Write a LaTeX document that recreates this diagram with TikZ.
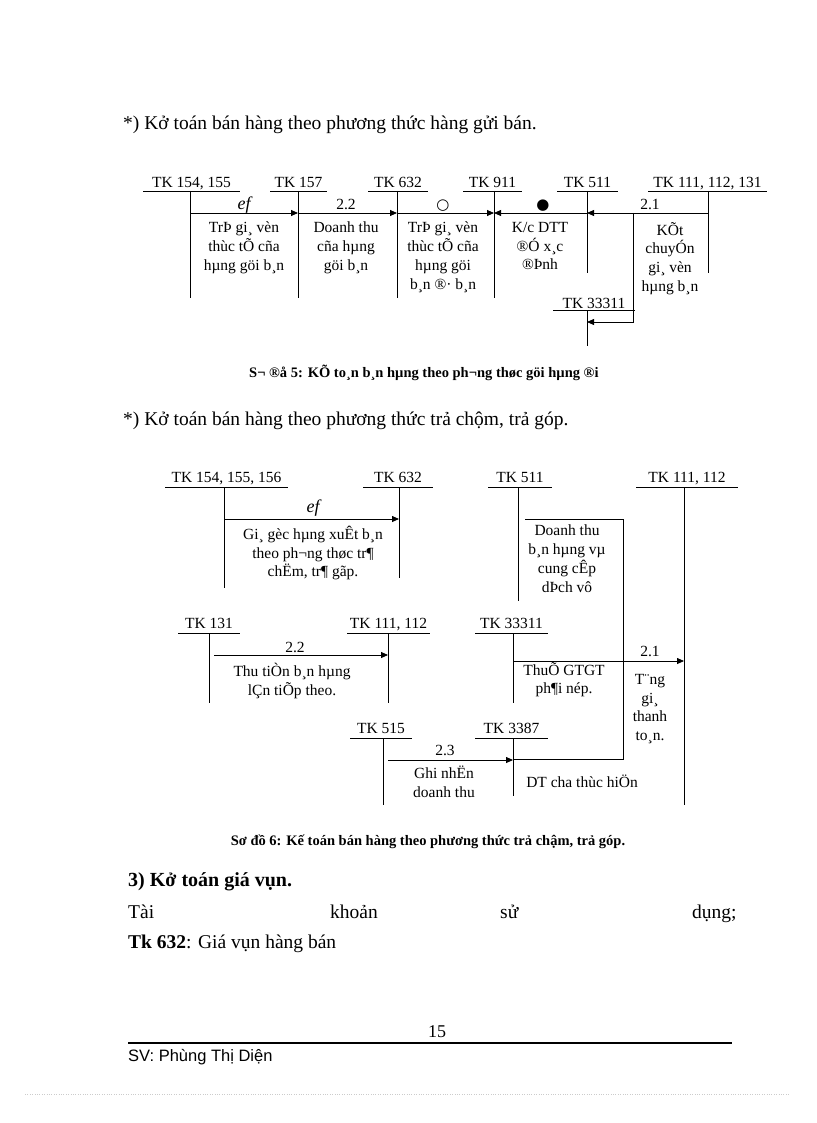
\documentclass[tikz,border=0pt]{standalone}
\usepackage{fontspec}
\setmainfont{Liberation Serif}
\newfontfamily\djv{DejaVu Sans}
\newfontfamily\arl{Liberation Sans}
\usetikzlibrary{arrows.meta}
\begin{document}
\begin{tikzpicture}[x=1pt,y=-1pt,
  lbl/.style={font=\fontsize{15.5}{17}\selectfont,inner sep=0pt,anchor=base,yshift=-5pt},
  txt/.style={font=\fontsize{15.5}{18.7}\selectfont,align=center,inner sep=0pt,anchor=north},
  ln/.style={line width=0.8pt},
  ar/.style={line width=0.8pt,-{Triangle[length=7pt,width=6pt]}},
  hd/.style={font=\fontsize{19.5}{22}\selectfont,anchor=west,inner sep=0pt}]
\useasboundingbox (0,0) rectangle (816,1123);
% headings
\node[hd] (h1) at (123,125) {*) Kở toán bán hàng theo phương thức hàng gửi bán.};
% ---- diagram 1
\foreach \n/\t/\a/\b/\v/\e in {a/{TK 154, 155}/143/240/190/298, b/{TK 157}/270/327/298/298, c/{TK 632}/368/428/397/298, d/{TK 911}/463/522/494/298, e/{TK 511}/557/618/587/273, f/{TK 111, 112, 131}/648/767/708/273}{
  \node[lbl] (L\n) at ({(\a+\b)/2},183) {\t};
  \draw[ln] (\a,191) -- (\b,191);
  \coordinate (T\n) at (\v,191); \coordinate (B\n) at (\v,\e);
  \draw[ln] (T\n) -- (B\n);
}
\coordinate (A1) at (190,213); \coordinate (A2) at (298,213); \coordinate (A3) at (397,213);
\coordinate (A4) at (494,213); \coordinate (A5) at (587,213); \coordinate (A6) at (708,213);
\draw[ar] (A1) -- (A2); \draw[ar] (A2) -- (A3); \draw[ar] (A3) -- (A4);
\draw[ar] (A5) -- (A4); \draw[ar] (A6) -- (A5);
\node[lbl,font=\itshape\fontsize{18}{18}\selectfont] (s1) at (244,205) {ef};
\node[lbl] (s2) at (346,205) {2.2};
\node[lbl,font=\djv\fontsize{15}{15}\selectfont] (s3) at (443,205) {○};
\node[lbl,font=\djv\fontsize{15}{15}\selectfont] (s4) at (543,205) {●};
\node[lbl] (s5) at (650,205) {2.1};
\node[txt] (t1) at (244,222) {TrÞ gi¸ vèn\\thùc tÕ cña\\hµng göi b¸n};
\node[txt] (t2) at (346,222) {Doanh thu\\cña hµng\\göi b¸n};
\node[txt] (t3) at (443,222) {TrÞ gi¸ vèn\\thùc tÕ cña\\hµng göi\\b¸n ®· b¸n};
\begin{scope}
\clip (500,215) rectangle (585,276);
\node[txt] (t4) at (540,222) {K/c DTT\\®Ó x¸c\\®Þnh\\KQKD};
\end{scope}
\node[txt] (t5) at (670,222) {KÕt\\chuyÓn\\gi¸ vèn\\hµng b¸n};
\node[lbl] (L33) at (594,303) {TK 33311};
\draw[ln] (553,310) -- (635,310);
\coordinate (T33) at (587,310); \coordinate (B33) at (587,346);
\draw[ln] (T33) -- (B33);
\coordinate (E1) at (633,213); \coordinate (E2) at (587,322);
\draw[ar] (E1) |- (E2);
\node[lbl,font=\bfseries\fontsize{14.5}{16}\selectfont,anchor=base west] (c5) at (249,372) {S¬ ®å 5: KÕ to¸n b¸n hµng theo ph¬ng  thøc göi hµng ®i};
% ---- heading 2
\node[hd] (h2) at (123,421) {*) Kở toán bán hàng theo phương thức trả chộm, trả góp.};
% ---- diagram 2
\foreach \n/\t/\y/\a/\b/\v/\e in {a/{TK 154, 155, 156}/477/165/288/224/588, b/{TK 632}/477/363/433/399/578, c/{TK 511}/477/488/552/518/601, d/{TK 111, 112}/477/636/738/684/805,
  e/{TK 131}/623/178/240/209/703, f/{TK 111, 112}/623/347/430/388/703, g/{TK 33311}/623/475/548/513/703,
  h/{TK 515}/728/350/412/383/805, i/{TK 3387}/728/475/548/513/796}{
  \node[lbl] (M\n) at ({(\a+\b)/2},\y) {\t};
  \draw[ln] (\a,\y+10) -- (\b,\y+10);
  \coordinate (U\n) at (\v,\y+10); \coordinate (V\n) at (\v,\e);
  \draw[ln] (U\n) -- (V\n);
}
\coordinate (P1) at (224,519); \coordinate (P2) at (399,519);
\draw[ar] (P1) -- (P2);
\node[lbl,font=\itshape\fontsize{18}{18}\selectfont] (u1) at (313,507) {ef};
\node[txt] (w1) at (313,526) {Gi¸ gèc hµng  xuÊt b¸n\\theo ph¬ng  thøc tr¶\\chËm, tr¶ gãp.};
\coordinate (Q1) at (525,519); \coordinate (Q2) at (623,519); \coordinate (Q3) at (623,759); \coordinate (Q4) at (513,759);
\draw[ln] (Q1) -- (Q2) -- (Q3) -- (Q4);
\node[txt] (w2) at (567,525) {Doanh thu\\b¸n hµng  vµ\\cung  cÊp\\dÞch vô};
\coordinate (R1) at (214,655); \coordinate (R2) at (388,655);
\draw[ar] (R1) -- (R2);
\node[lbl] (u2) at (295,647) {2.2};
\node[txt] (w3) at (292,663) {Thu tiÒn b¸n hµng\\lÇn tiÕp theo.};
\coordinate (S1) at (513,661); \coordinate (S2) at (684,661);
\draw[ar] (S1) -- (S2);
\node[lbl] (u3) at (650,651) {2.1};
\node[txt] (w4) at (564,662) {ThuÕ GTGT\\ph¶i nép.};
\node[txt] (w5) at (650,674) {T¨ng\\gi¸\\thanh\\to¸n.};
\coordinate (X1) at (388,760); \coordinate (X2) at (513,760);
\draw[ar] (X1) -- (X2);
\node[lbl] (u4) at (445,750) {2.3};
\node[txt] (w6) at (444,766) {Ghi nhËn\\doanh thu};
\node[txt] (w7) at (582,775) {DT ch­a  thùc hiÖn};
\node[lbl,font=\bfseries\fontsize{14.5}{16}\selectfont] (c6) at (428,840) {Sơ đồ 6: Kế toán bán hàng theo phương thức trả chậm, trả góp.};
% ---- text below
\node[hd,font=\bfseries\fontsize{20}{22}\selectfont] (h3) at (128,882) {3) Kở toán giá vụn.};
\node[hd,anchor=base west] (p1) at (128,918) {Tài};
\node[hd,anchor=base west] (p2) at (330,918) {khoản};
\node[hd,anchor=base west] (p3) at (500,918) {sử};
\node[hd,anchor=base west] (p4) at (692,918) {dụng;};
\node[hd,font=\fontsize{19.5}{22}\selectfont] (p5) at (128,944) {\textbf{Tk 632}: Giá vụn hàng bán};
\node[lbl,font=\fontsize{18}{18}\selectfont] (pg) at (437,1032) {15};
\draw[line width=2pt] (128,1043) -- (732,1043);
\node[hd,font=\arl\fontsize{16.5}{18}\selectfont] (sv) at (128,1057) {SV: Phùng Thị Diện};
\draw[gray!40,dotted] (25,1094) -- (790,1094);
\end{tikzpicture}
\end{document}
